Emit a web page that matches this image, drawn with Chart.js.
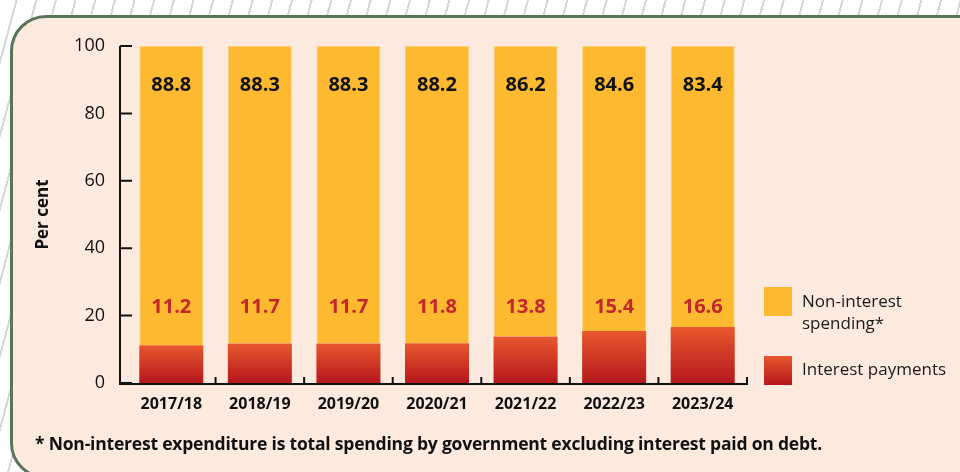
<!DOCTYPE html>
<html>
<head>
<meta charset="utf-8">
<script src="https://cdn.jsdelivr.net/npm/chart.js@4.4.1/dist/chart.umd.min.js"></script>
<style>
  html, body { margin: 0; padding: 0; }
  body {
    width: 960px; height: 472px; overflow: hidden; position: relative;
    background: #fff repeating-linear-gradient(105deg, #fff 0px, #fff 15px, #d6d6d6 15px, #d6d6d6 17px, #fff 17px, #fff 19px);
    font-family: "Open Sans", sans-serif;
  }
  #panel {
    position: absolute; left: 10px; top: 15px; width: 1000px; height: 458px;
    background: #fdeadf; border: 3px solid #5b7559; border-radius: 36px;
  }
  #wrap { position: absolute; left: 0; top: 0; width: 960px; height: 472px; }
  .legend { position: absolute; left: 764px; color: #1a1a1a; font-size: 17px; line-height: 22px; }
  .legend .sw { position: absolute; left: 0; width: 28px; height: 29px; }
  .legend .tx { position: absolute; left: 38px; white-space: nowrap; }
  #note {
    position: absolute; left: 35px; top: 431px; font-size: 17.5px; font-weight: 700;
    color: #111; white-space: nowrap; letter-spacing: -0.2px;
  }
</style>
</head>
<body>
<div id="panel"></div>
<div id="wrap"><canvas id="barChart" width="960" height="472"></canvas></div>
<div class="legend" style="top:287px">
  <div class="sw" style="background:#fdb930"></div>
  <div class="tx" style="top:3px">Non-interest<br>spending*</div>
</div>
<div class="legend" style="top:356px">
  <div class="sw" style="background:linear-gradient(#e8582d,#b5171d)"></div>
  <div class="tx" style="top:2px">Interest payments</div>
</div>
<div id="note">* Non-interest expenditure is total spending by government excluding interest paid on debt.</div>
<script>
const categories = ['2017/18', '2018/19', '2019/20', '2020/21', '2021/22', '2022/23', '2023/24'];
const interestPayments = [11.2, 11.7, 11.7, 11.8, 13.8, 15.4, 16.6];
const nonInterest = [88.8, 88.3, 88.3, 88.2, 86.2, 84.6, 83.4];
const yTicks = [0, 20, 40, 60, 80, 100];

const yellow = '#fdb930';
const labelRed = '#c1272d';
const ink = '#111';

// red bars get their own top-to-bottom gradient
function redGradient(context) {
    const chart = context.chart;
    const { ctx, chartArea, scales } = chart;
    if (!chartArea) return '#d63a26';
    const v = interestPayments[context.dataIndex];
    const top = scales.y.getPixelForValue(v);
    const g = ctx.createLinearGradient(0, top, 0, scales.y.getPixelForValue(0));
    g.addColorStop(0, '#e8582d');
    g.addColorStop(1, '#b5171d');
    return g;
}

const axesPlugin = {
    id: 'axesLines',
    afterDatasetsDraw(chart) {
        const { ctx, chartArea, scales } = chart;
        const x0 = chartArea.left - 7;
        const yb = chartArea.bottom + 1;
        ctx.save();
        ctx.strokeStyle = ink;
        ctx.lineWidth = 2;
        ctx.beginPath();
        ctx.moveTo(x0, scales.y.getPixelForValue(100));
        ctx.lineTo(x0, yb);
        ctx.lineTo(chartArea.right + 1, yb);
        yTicks.forEach(t => {
            const py = scales.y.getPixelForValue(t);
            ctx.moveTo(x0, py);
            ctx.lineTo(x0 + 12, py);
        });
        for (let i = 0; i < categories.length; i++) {
            const px = i < categories.length - 1
                ? (scales.x.getPixelForValue(i) + scales.x.getPixelForValue(i + 1)) / 2
                : chartArea.right;
            ctx.moveTo(px, yb);
            ctx.lineTo(px, yb - 7);
        }
        ctx.stroke();

        // value labels
        ctx.textAlign = 'center';
        ctx.textBaseline = 'middle';
        ctx.font = 'bold 20px "Open Sans"';
        categories.forEach((c, i) => {
            const px = scales.x.getPixelForValue(i);
            ctx.fillStyle = ink;
            ctx.fillText(nonInterest[i].toFixed(1), px, scales.y.getPixelForValue(88.2));
            ctx.fillStyle = labelRed;
            ctx.fillText(interestPayments[i].toFixed(1), px, scales.y.getPixelForValue(22.6));
        });
        ctx.restore();
    }
};

const ctx = document.getElementById('barChart').getContext('2d');
const myChart = new Chart(ctx, {
    type: 'bar',
    data: {
        labels: categories,
        datasets: [{
            label: 'Interest payments',
            data: interestPayments,
            backgroundColor: redGradient,
            borderWidth: 0
        }, {
            label: 'Non-interest spending*',
            data: nonInterest,
            backgroundColor: yellow,
            borderColor: '#fdd27e',
            borderWidth: 1,
            borderSkipped: 'bottom'
        }]
    },
    options: {
        responsive: false,
        animation: false,
        layout: { padding: { left: 30, top: 46, right: 213, bottom: 0 } },
        datasets: { bar: { categoryPercentage: 1, barPercentage: 0.723 } },
        plugins: { legend: { display: false }, tooltip: { enabled: false } },
        scales: {
            x: {
                stacked: true,
                grid: { display: false, drawTicks: false },
                border: { display: false },
                ticks: { color: ink, padding: 12, font: { family: 'Open Sans', size: 16, weight: 'bold' } },
                afterFit: s => { s.height = 89; }
            },
            y: {
                stacked: true,
                min: 0,
                max: 100,
                grid: { display: false, drawTicks: false },
                border: { display: false },
                ticks: { stepSize: 20, color: ink, padding: 22, font: { family: 'Open Sans', size: 18 } },
                title: {
                    display: true, text: 'Per cent', color: ink,
                    padding: { top: 3, bottom: 0 },
                    font: { family: 'Open Sans', size: 17, weight: 'bold' }
                },
                afterFit: s => { s.width = 97; }
            }
        }
    },
    plugins: [axesPlugin]
});
</script>
</body>
</html>
